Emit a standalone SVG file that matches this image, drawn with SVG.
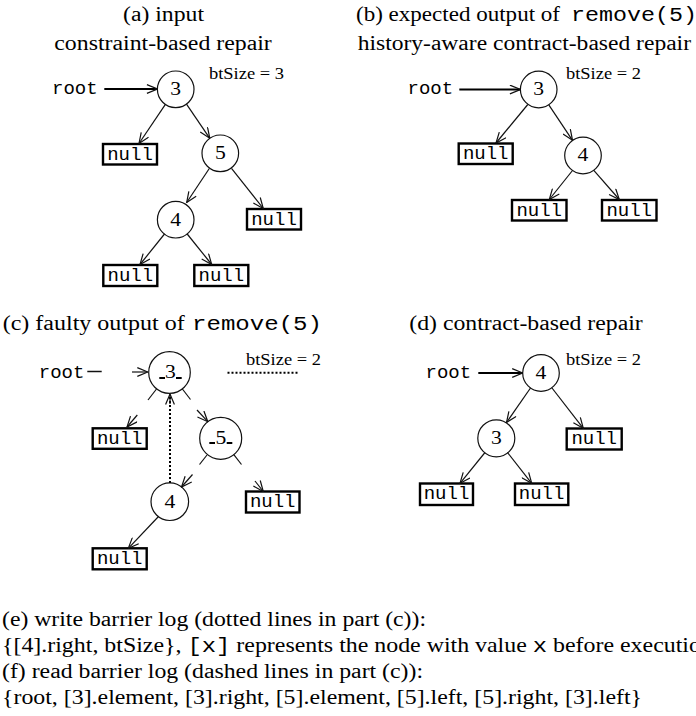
<svg xmlns="http://www.w3.org/2000/svg" width="696" height="716" viewBox="0 0 696 716">
  <defs>
    <marker id="head" viewBox="0 0 12 10" refX="11.5" refY="5" markerWidth="12" markerHeight="10" markerUnits="userSpaceOnUse" orient="auto">
      <path d="M1,0.6 L11.5,5 L1,9.4" fill="none" stroke="#111" stroke-width="1.2"/>
    </marker>
  </defs>
  <style>
    .serif { font-family: "Liberation Serif", "Times New Roman", serif; fill: #000; }
    .mono { font-family: "Liberation Mono", "Courier New", monospace; fill: #000; }
    .title { font-size: 20px; }
    .bt { font-size: 17px; }
    .digit { font-size: 18px; text-anchor: middle; }
    .lbl { font-size: 19px; }
    .nulltxt { font-size: 19px; text-anchor: middle; }
    .node circle { fill: #fff; stroke: #111; stroke-width: 1.2; }
    .box rect { fill: #fff; stroke: #000; stroke-width: 2.4; }
    .edge { stroke: #111; stroke-width: 1.2; fill: none; }
    .arr { marker-end: url(#head); }
    .rootline { stroke: #000; stroke-width: 2.2; fill: none; marker-end: url(#head); }
    .dot { stroke: #000; stroke-width: 2; fill: none; stroke-dasharray: 2 2; }
    .tick { stroke: #000; stroke-width: 2; }
  </style>

  <!-- panel captions -->
  <g id="captions">
    <text class="serif title" x="123" y="21" textLength="81" lengthAdjust="spacingAndGlyphs">(a) input</text>
    <text class="serif title" x="54.3" y="50" textLength="217.5" lengthAdjust="spacingAndGlyphs">constraint-based repair</text>
    <text class="serif title" x="356" y="21" textLength="204" lengthAdjust="spacingAndGlyphs">(b) expected output of</text>
    <text class="mono title" x="571" y="21" textLength="126" lengthAdjust="spacingAndGlyphs">remove(5)</text>
    <text class="serif title" x="357.7" y="50" textLength="333.3" lengthAdjust="spacingAndGlyphs">history-aware contract-based repair</text>
    <text class="serif title" x="2.7" y="330" textLength="182" lengthAdjust="spacingAndGlyphs">(c) faulty output of</text>
    <text class="mono title" x="192" y="330" textLength="130" lengthAdjust="spacingAndGlyphs">remove(5)</text>
    <text class="serif title" x="409.3" y="330" textLength="233.4" lengthAdjust="spacingAndGlyphs">(d) contract-based repair</text>
  </g>

  <!-- variables: root pointers and size counters -->
  <g id="vars">
    <text class="mono lbl" x="52" y="94">root</text>
    <text class="serif bt" x="209" y="79" textLength="75" lengthAdjust="spacingAndGlyphs">btSize = 3</text>
    <text class="mono lbl" x="407.5" y="94">root</text>
    <text class="serif bt" x="566" y="78.5" textLength="75" lengthAdjust="spacingAndGlyphs">btSize = 2</text>
    <text class="mono lbl" x="38.8" y="378">root</text>
    <text class="serif bt" x="246" y="365" textLength="75" lengthAdjust="spacingAndGlyphs">btSize = 2</text>
    <text class="mono lbl" x="425.5" y="378">root</text>
    <text class="serif bt" x="566" y="365" textLength="75" lengthAdjust="spacingAndGlyphs">btSize = 2</text>
  </g>

  <!-- (a) input tree -->
  <g id="a-n3" class="node"><circle cx="175.7" cy="89.3" r="18.3"/><text class="serif digit" x="175.7" y="95.1" textLength="10.8" lengthAdjust="spacingAndGlyphs">3</text></g>
  <g id="a-n5" class="node"><circle cx="220.3" cy="153.3" r="18.3"/><text class="serif digit" x="220.3" y="159.1" textLength="10.8" lengthAdjust="spacingAndGlyphs">5</text></g>
  <g id="a-n4" class="node"><circle cx="175.7" cy="219.7" r="18.3"/><text class="serif digit" x="175.7" y="225.5" textLength="10.8" lengthAdjust="spacingAndGlyphs">4</text></g>
  <g id="a-null1" class="box"><rect x="103" y="144" width="54" height="20.5"/><text class="mono nulltxt" x="130" y="159.5">null</text></g>
  <g id="a-null2" class="box"><rect x="247" y="209" width="54" height="20.5"/><text class="mono nulltxt" x="274" y="224.5">null</text></g>
  <g id="a-null3" class="box"><rect x="103.3" y="265" width="54" height="21"/><text class="mono nulltxt" x="130.3" y="280.5">null</text></g>
  <g id="a-null4" class="box"><rect x="194.3" y="265" width="54" height="21"/><text class="mono nulltxt" x="221.3" y="280.5">null</text></g>

  <!-- (b) expected tree -->
  <g id="b-n3" class="node"><circle cx="538.7" cy="89.5" r="18.3"/><text class="serif digit" x="538.7" y="95.3" textLength="10.8" lengthAdjust="spacingAndGlyphs">3</text></g>
  <g id="b-n4" class="node"><circle cx="583" cy="155.5" r="18.3"/><text class="serif digit" x="583" y="161.3" textLength="10.8" lengthAdjust="spacingAndGlyphs">4</text></g>
  <g id="b-null1" class="box"><rect x="458.7" y="143.5" width="54" height="20.5"/><text class="mono nulltxt" x="485.7" y="159">null</text></g>
  <g id="b-null2" class="box"><rect x="512" y="200" width="54.5" height="20.5"/><text class="mono nulltxt" x="539.2" y="215.5">null</text></g>
  <g id="b-null3" class="box"><rect x="602" y="200" width="54.5" height="20.5"/><text class="mono nulltxt" x="629.2" y="215.5">null</text></g>

  <!-- (c) faulty tree -->
  <g id="c-n3" class="node"><circle cx="169.5" cy="372.5" r="20.8"/><text class="serif digit" x="170.5" y="378.3" textLength="10.8" lengthAdjust="spacingAndGlyphs">3</text>
    <line class="tick" x1="159.3" y1="378" x2="165" y2="378"/><line class="tick" x1="176" y1="378" x2="181.7" y2="378"/></g>
  <g id="c-n5" class="node"><circle cx="220.7" cy="438.3" r="21"/><text class="serif digit" x="221" y="443.5" textLength="10.8" lengthAdjust="spacingAndGlyphs">5</text>
    <line class="tick" x1="209.3" y1="443" x2="215" y2="443"/><line class="tick" x1="226.7" y1="443" x2="232.3" y2="443"/></g>
  <g id="c-n4" class="node"><circle cx="169.8" cy="501.7" r="18.8"/><text class="serif digit" x="169.8" y="507.5" textLength="10.8" lengthAdjust="spacingAndGlyphs">4</text></g>
  <g id="c-null1" class="box"><rect x="92.7" y="428.3" width="54" height="20.5"/><text class="mono nulltxt" x="119.7" y="443.8">null</text></g>
  <g id="c-null2" class="box"><rect x="246" y="491.5" width="53.5" height="21"/><text class="mono nulltxt" x="272.7" y="507">null</text></g>
  <g id="c-null3" class="box"><rect x="92.7" y="548.3" width="54" height="21"/><text class="mono nulltxt" x="119.7" y="563.8">null</text></g>

  <!-- (d) contract-based repair tree -->
  <g id="d-n4" class="node"><circle cx="541" cy="373" r="18.3"/><text class="serif digit" x="541" y="378.8" textLength="10.8" lengthAdjust="spacingAndGlyphs">4</text></g>
  <g id="d-n3" class="node"><circle cx="496.3" cy="438.3" r="18.5"/><text class="serif digit" x="496.3" y="444.1" textLength="10.8" lengthAdjust="spacingAndGlyphs">3</text></g>
  <g id="d-null1" class="box"><rect x="566.7" y="428.5" width="55" height="21"/><text class="mono nulltxt" x="594.2" y="444">null</text></g>
  <g id="d-null2" class="box"><rect x="420" y="483.5" width="53" height="21.5"/><text class="mono nulltxt" x="446.5" y="499.3">null</text></g>
  <g id="d-null3" class="box"><rect x="515" y="483.5" width="53.3" height="21.5"/><text class="mono nulltxt" x="541.6" y="499.3">null</text></g>

  <!-- connectors -->
  <g id="edges">
    <!-- (a) -->
    <line class="rootline" x1="104.3" y1="89" x2="157.4" y2="89"/>
    <line class="edge arr" x1="165.4" y1="104.4" x2="139" y2="143.5"/>
    <line class="edge arr" x1="186.5" y1="104.2" x2="209.8" y2="138.3"/>
    <line class="edge arr" x1="209.3" y1="168.5" x2="186.7" y2="202.5"/>
    <line class="edge arr" x1="231.5" y1="168.3" x2="263.3" y2="208.5"/>
    <line class="edge arr" x1="164.5" y1="234" x2="140" y2="264.5"/>
    <line class="edge arr" x1="187.2" y1="234" x2="211.7" y2="264.5"/>
    <!-- (b) -->
    <line class="rootline" x1="459.3" y1="89.5" x2="520.4" y2="89.5"/>
    <line class="edge arr" x1="527.8" y1="104.5" x2="496" y2="143"/>
    <line class="edge arr" x1="548.8" y1="104.8" x2="572.5" y2="140.3"/>
    <line class="edge arr" x1="572.5" y1="170.5" x2="549.3" y2="199.5"/>
    <line class="edge arr" x1="593.8" y1="170.3" x2="619.3" y2="199.5"/>
    <!-- (c) read-barrier edges: only the dash ends remain -->
    <line class="edge" x1="87.3" y1="371.5" x2="101.7" y2="371.5" style="stroke-width:1.5"/>
    <line class="edge arr" x1="132" y1="372" x2="147.8" y2="372"/>
    <line class="edge" x1="156.5" y1="389" x2="148" y2="400"/>
    <line class="edge arr" x1="137.3" y1="415" x2="127" y2="427"/>
    <line class="edge" x1="182.4" y1="389" x2="190.5" y2="399.5"/>
    <line class="edge arr" x1="197" y1="410" x2="207.8" y2="421.7"/>
    <line class="edge" x1="207" y1="455" x2="199.5" y2="464.5"/>
    <line class="edge arr" x1="192.5" y1="474.5" x2="181.5" y2="487"/>
    <line class="edge" x1="233.8" y1="454.7" x2="241.5" y2="464.5"/>
    <line class="edge arr" x1="255" y1="481" x2="263.3" y2="491.5"/>
    <line class="edge arr" x1="158.5" y1="516.5" x2="128.3" y2="548.3"/>
    <!-- (c) write-barrier edges -->
    <line class="dot" x1="170" y1="483" x2="170" y2="396"/>
    <line class="edge arr" x1="170" y1="404" x2="170" y2="394"/>
    <line class="dot" x1="227.5" y1="372.7" x2="299.5" y2="372.7"/>
    <!-- (d) -->
    <line class="rootline" x1="478.3" y1="373" x2="522.7" y2="373"/>
    <line class="edge arr" x1="530.5" y1="388" x2="506.5" y2="422.5"/>
    <line class="edge arr" x1="552" y1="388" x2="583.3" y2="428.3"/>
    <line class="edge arr" x1="485" y1="452.5" x2="460" y2="483.3"/>
    <line class="edge arr" x1="507.5" y1="452.5" x2="531.7" y2="483.3"/>
  </g>

  <!-- barrier logs -->
  <g id="logs">
    <text class="serif title" x="2" y="626" textLength="424" lengthAdjust="spacingAndGlyphs">(e) write barrier log (dotted lines in part (c)):</text>
    <text class="serif title" transform="scale(1.195,1)" x="1.7" y="652">{[4].right, btSize}, <tspan class="mono">[x]</tspan> represents the node with value <tspan class="mono">x</tspan> before execution</text>
    <text class="serif title" x="2" y="678" textLength="421" lengthAdjust="spacingAndGlyphs">(f) read barrier log (dashed lines in part (c)):</text>
    <text class="serif title" x="2" y="704" textLength="640" lengthAdjust="spacingAndGlyphs">{root, [3].element, [3].right, [5].element, [5].left, [5].right, [3].left}</text>
  </g>
</svg>
